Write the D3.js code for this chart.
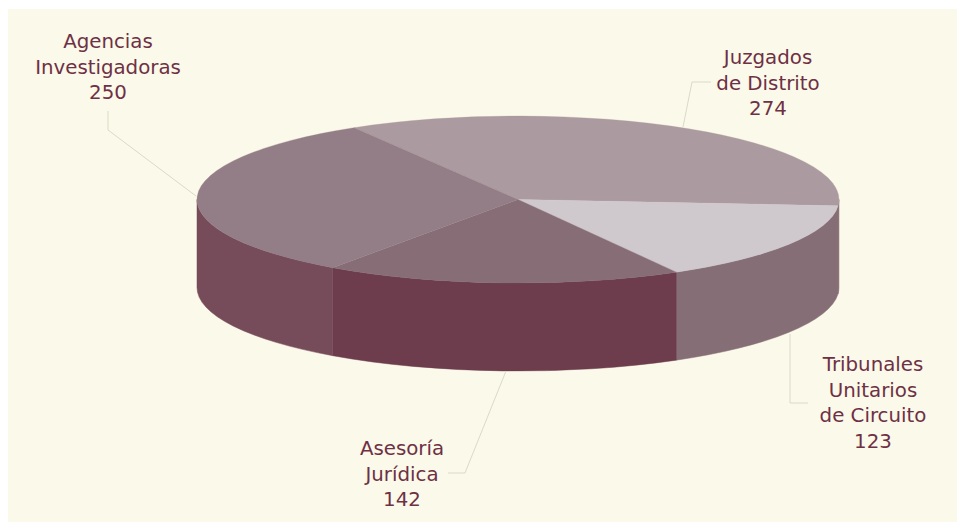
<!DOCTYPE html>
<html><head><meta charset="utf-8">
<script src="https://cdn.jsdelivr.net/npm/d3@7"></script>
<style>html,body{margin:0;padding:0;background:#fff}svg{display:block}</style>
</head><body><svg id="c" width="957" height="522"></svg>
<script>
const categories = ["Juzgados de Distrito","Tribunales Unitarios de Circuito","Asesoría Jurídica","Agencias Investigadoras"];
const values = [274,123,142,250];
const labelLines = [["Juzgados","de Distrito","274"],["Tribunales","Unitarios","de Circuito","123"],["Asesoría","Jurídica","142"],["Agencias","Investigadoras","250"]];
const topColors = ["#ab9a9f","#cfc9cd","#876d76","#937d86"];
const sideColors = ["#8d747c","#866e76","#6d3d4d","#764b5a"];
const labelPos = [[768,64],[873,371],[402,455],[108,48]];
const leaders = [
  [[711,82],[692,82],[683,127]],
  [[790,334],[790,403],[808,403]],
  [[448,473],[465,473],[506,371]],
  [[108,111],[108,130],[196,196]]
];
const svg = d3.select("#c");
const cx=518, cy=199.5, rx=321, ry=83.5, depth=88;
svg.append("rect").attr("x",8).attr("y",9).attr("width",949).attr("height",513).attr("fill","#fbf9e9");

const pie = d3.pie().sort(null).startAngle(-30.7*Math.PI/180).endAngle((360-30.7)*Math.PI/180);
const arcs = pie(values);
const arc = d3.arc().innerRadius(0).outerRadius(rx);
const py = a => -Math.cos(a)*ry, px = a => Math.sin(a)*rx;
const g = svg.append("g").attr("transform",`translate(${cx},${cy})`);

const frontLo=Math.PI/2, frontHi=3*Math.PI/2;
arcs.forEach((d,i)=>{
  const s=Math.max(d.startAngle,frontLo), e=Math.min(d.endAngle,frontHi);
  if(e<=s) return;
  g.append("path").attr("fill",sideColors[i]).attr("stroke",sideColors[i]).attr("stroke-width",0.5)
   .attr("d",`M${px(s)},${py(s)}A${rx},${ry} 0 0 1 ${px(e)},${py(e)}L${px(e)},${py(e)+depth}A${rx},${ry} 0 0 0 ${px(s)},${py(s)+depth}Z`);
});
const face = g.append("g").attr("transform",`scale(1,${ry/rx})`);
face.selectAll("path").data(arcs).join("path").attr("d",arc).attr("fill",(d,i)=>topColors[i]).attr("stroke",(d,i)=>topColors[i]).attr("stroke-width",0.5);

const line=d3.line();
svg.selectAll("path.l").data(leaders).join("path").attr("class","l").attr("d",line).attr("fill","none").attr("stroke","#dbd9c8").attr("stroke-width",1);

labelLines.forEach((ls,i)=>{
  const t=svg.append("text").attr("text-anchor","middle").attr("font-family","'DejaVu Sans',Verdana,sans-serif").attr("font-size",19.8).attr("fill","#6e3045");
  ls.forEach((s,k)=>t.append("tspan").attr("x",labelPos[i][0]).attr("y",labelPos[i][1]+k*25.7).text(s));
});
</script></body></html>
